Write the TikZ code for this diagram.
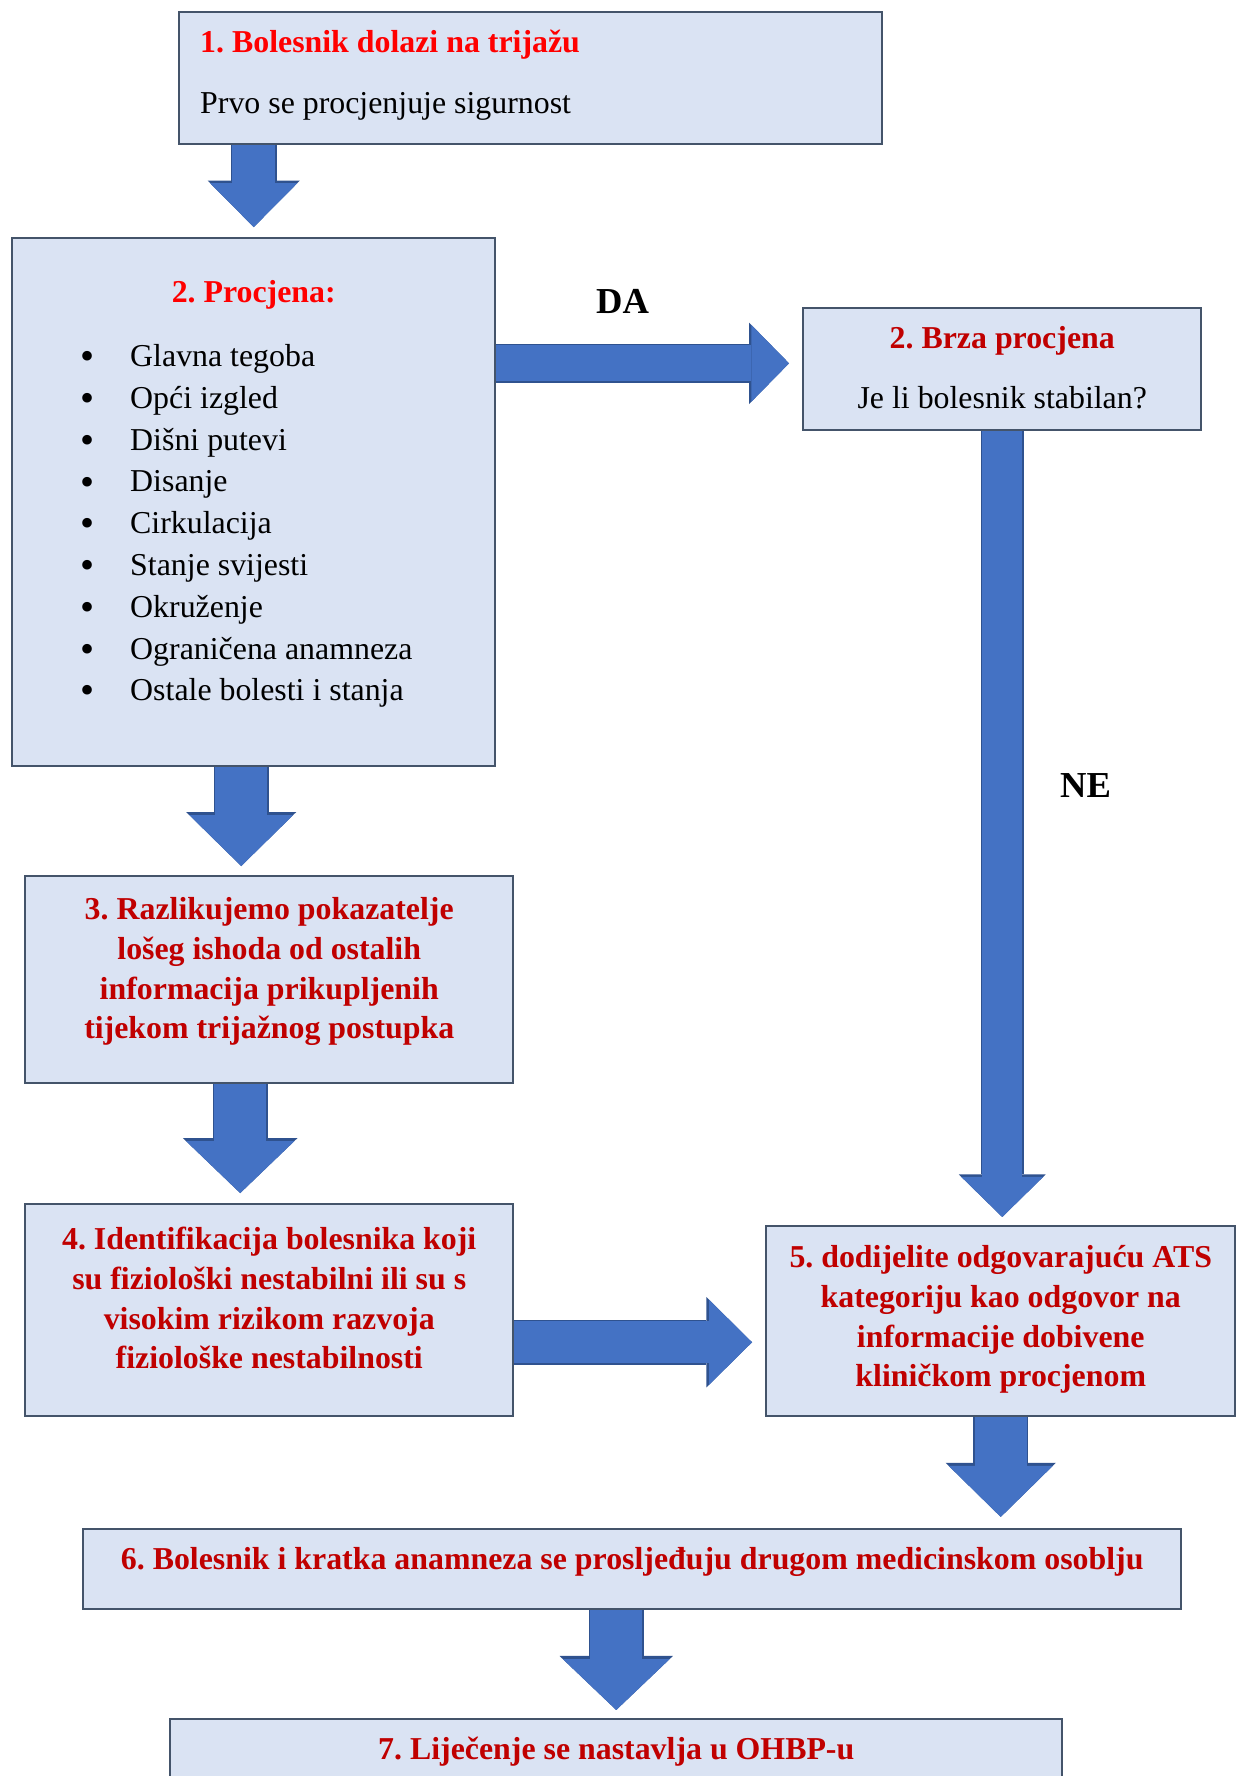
\documentclass[tikz,border=0pt]{standalone}
\usepackage{fontspec}
\setmainfont{Liberation Serif}
\usetikzlibrary{arrows.meta}

\definecolor{okvirrub}{HTML}{44546A}
\definecolor{okvirpoz}{HTML}{DAE3F3}
\definecolor{strelica}{HTML}{4472C4}
\definecolor{strelicarub}{HTML}{2F528F}
\definecolor{jarkocrvena}{HTML}{FF0000}
\definecolor{tamnocrvena}{HTML}{C00000}

\newlength{\jed}
\setlength{\jed}{0.4237pt}
\frenchspacing

% sirina, visina, prva osnovna linija (u \jed), tekst
\newcommand{\okvir}[4]{\parbox[c][#2\jed][t]{#1\jed}{\fontsize{13.5}{16.9}\selectfont\centering\rule{0pt}{#3\jed}#4}}
\newcommand{\crveno}[1]{{\color{tamnocrvena}\bfseries #1}}
\newcommand{\stavka}[1]{\par\noindent\hspace*{29pt}\makebox[21pt][l]{\raisebox{-1.3pt}{\fontsize{17}{17}\selectfont\textbullet}}#1}

\begin{document}
\begin{tikzpicture}[x=\jed, y=-\jed,
  okvir/.style={draw=okvirrub, fill=okvirpoz, line width=1.05pt, inner sep=0pt, anchor=north west},
  blok/.style n args={4}{draw=strelica, line width=#1, shorten >=#4,
    -{Triangle[width=#2, length=#3, line width=0pt]},
    preaction={draw=strelicarub, line width=#1+1.3pt, shorten >=#4,
      -{Triangle[width=#2, length=#3, line width=0pt, scale=1.06]}}},
  oznaka/.style={font=\fontsize{15.5}{18}\selectfont\bfseries, anchor=base, inner sep=0pt}]
\useasboundingbox (0,0) rectangle (1242,1776);

\node[okvir] (prijem) at (178,11) {\parbox[c][132\jed][t]{703\jed}{\fontsize{13.5}{16.9}\selectfont\raggedright
  \hspace*{21\jed}\rule{0pt}{40\jed}{\color{jarkocrvena}\bfseries 1. Bolesnik dolazi na trijažu}\\[8.9pt]
  \hspace*{21\jed}Prvo se procjenjuje sigurnost}};

\node[okvir] (procjena) at (11,237) {\parbox[c][528\jed][t]{483\jed}{\fontsize{13.5}{17.7}\selectfont
  {\centering\rule{0pt}{64\jed}{\color{jarkocrvena}\bfseries 2. Procjena:}\par}
  \vspace{9.6pt}
  \stavka{Glavna tegoba}
  \stavka{Opći izgled}
  \stavka{Dišni putevi}
  \stavka{Disanje}
  \stavka{Cirkulacija}
  \stavka{Stanje svijesti}
  \stavka{Okruženje}
  \stavka{Ograničena anamneza}
  \stavka{Ostale bolesti i stanja}}};

\node[okvir] (brza) at (802,307) {\okvir{398}{122}{40.5}{\crveno{2. Brza procjena}\\[8.5pt]Je li bolesnik stabilan?}};

\node[okvir] (razlikovanje) at (24,875) {\okvir{488}{207}{43}{\crveno{3. Razlikujemo pokazatelje\\lošeg ishoda od ostalih\\informacija prikupljenih\\tijekom trijažnog postupka}}};

\node[okvir] (identifikacija) at (24,1203) {\okvir{488}{212}{45}{\crveno{4. Identifikacija bolesnika koji\\su fiziološki nestabilni ili su s\\visokim rizikom razvoja\\fiziološke nestabilnosti}}};

\node[okvir] (kategorija) at (765,1225) {\okvir{469}{190}{41}{\crveno{5. dodijelite odgovarajuću ATS\\kategoriju kao odgovor na\\informacije dobivene\\kliničkom procjenom}}};

\node[okvir] (prosljedivanje) at (82,1528) {\okvir{1098}{80}{40}{\crveno{6. Bolesnik i kratka anamneza se prosljeđuju drugom medicinskom osoblju}}};

\node[okvir] (lijecenje) at (169,1718) {\okvir{892}{80}{40}{\crveno{7. Liječenje se nastavlja u OHBP-u}}};

\node[oznaka] (da) at (622.5,313) {DA};
\node[oznaka] (ne) at (1085.5,797) {NE};

% strelice
\draw[blok={18.2pt}{36.9pt}{18.6pt}{4.2pt}] (prijem.south -| procjena.north) -- (procjena.north);
\draw[blok={15.3pt}{32.6pt}{16pt}{5.5pt}] ([yshift=2.5pt]procjena.east |- brza.west) -- ([yshift=2.5pt]brza.west);
\draw[blok={17pt}{34.7pt}{17pt}{3.4pt}] (brza.south) -- (brza.south |- kategorija.north);
\draw[blok={22pt}{44pt}{21.6pt}{3.8pt}] ([xshift=-5.3pt]procjena.south) -- ([xshift=-5.3pt]procjena.south |- razlikovanje.north);
\draw[blok={22pt}{45.8pt}{22pt}{4.2pt}] ([xshift=-12.3pt]razlikovanje.south) -- ([xshift=-12.3pt]razlikovanje.south |- identifikacija.north);
\draw[blok={17.8pt}{36pt}{18.2pt}{5.5pt}] ([yshift=-8.9pt]identifikacija.east |- kategorija.west) -- ([yshift=-8.9pt]kategorija.west);
\draw[blok={22pt}{44pt}{21.6pt}{4.7pt}] (kategorija.south) -- (kategorija.south |- prosljedivanje.north);
\draw[blok={22pt}{45.3pt}{21.6pt}{3.4pt}] (prosljedivanje.south -| lijecenje.north) -- (lijecenje.north);
\end{tikzpicture}
\end{document}
